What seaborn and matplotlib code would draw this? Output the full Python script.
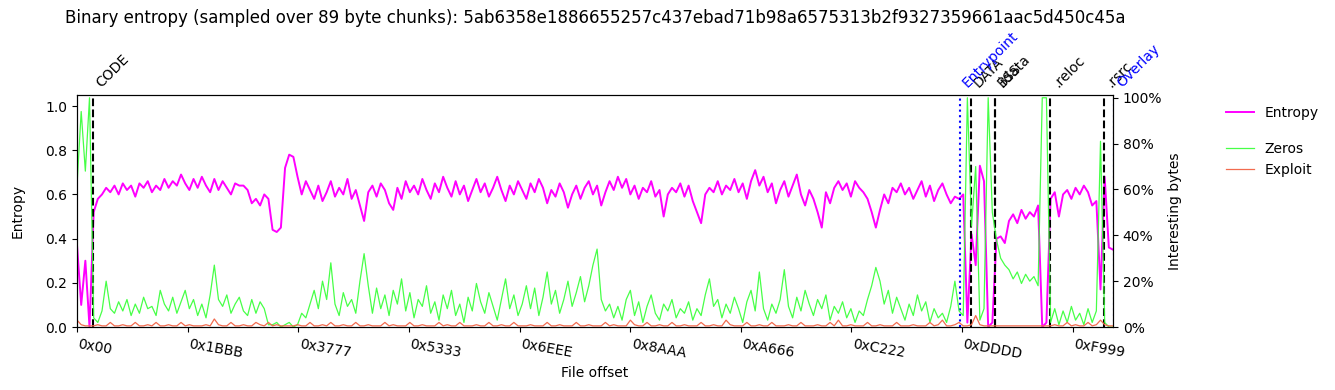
import numpy as np
import matplotlib
matplotlib.use('Agg')
import matplotlib.pyplot as plt
import matplotlib.transforms as mtransforms
from matplotlib.ticker import PercentFormatter
import seaborn as sns

# sample info
sha256 = '5ab6358e1886655257c437ebad71b98a6575313b2f9327359661aac5d450c45a'
chunk_size = 89
sample_step = 3 * chunk_size  # one value read every 3 chunks

# x tick labels (hex file offsets)
tick_labels = ['0x00', '0x1BBB', '0x3777', '0x5333', '0x6EEE',
               '0x8AAA', '0xA666', '0xC222', '0xDDDD', '0xF999']

# entropy (left axis, 0..1)
entropy = [
    0.37, 0.10, 0.30, 0.00, 0.52, 0.58, 0.60, 0.63, 0.61, 0.64,
    0.60, 0.65, 0.62, 0.64, 0.59, 0.65, 0.63, 0.66, 0.61, 0.64,
    0.62, 0.67, 0.63, 0.66, 0.64, 0.69, 0.65, 0.62, 0.67, 0.63,
    0.68, 0.64, 0.61, 0.67, 0.62, 0.66, 0.63, 0.60, 0.65, 0.64,
    0.64, 0.62, 0.56, 0.58, 0.55, 0.60, 0.58, 0.44, 0.43, 0.45,
    0.72, 0.78, 0.77, 0.68, 0.60, 0.66, 0.62, 0.58, 0.64, 0.57,
    0.61, 0.66, 0.59, 0.63, 0.60, 0.67, 0.58, 0.62, 0.55, 0.48,
    0.61, 0.64, 0.59, 0.65, 0.62, 0.56, 0.53, 0.63, 0.58, 0.66,
    0.61, 0.64, 0.60, 0.67, 0.62, 0.58, 0.65, 0.61, 0.68, 0.63,
    0.59, 0.66, 0.60, 0.64, 0.57, 0.62, 0.67, 0.61, 0.65, 0.59,
    0.63, 0.68, 0.62, 0.57, 0.64, 0.60, 0.66, 0.62, 0.58, 0.65,
    0.61, 0.67, 0.63, 0.56, 0.62, 0.59, 0.65, 0.61, 0.54, 0.60,
    0.64, 0.58, 0.63, 0.66, 0.60, 0.64, 0.55, 0.61, 0.66, 0.62,
    0.68, 0.63, 0.67, 0.60, 0.64, 0.58, 0.63, 0.61, 0.66, 0.59,
    0.62, 0.50, 0.60, 0.63, 0.61, 0.65, 0.59, 0.64, 0.57, 0.52,
    0.47, 0.60, 0.63, 0.61, 0.66, 0.60, 0.64, 0.62, 0.67, 0.61,
    0.65, 0.58, 0.66, 0.71, 0.64, 0.68, 0.61, 0.65, 0.56, 0.62,
    0.66, 0.59, 0.64, 0.69, 0.60, 0.55, 0.62, 0.58, 0.52, 0.45,
    0.61, 0.56, 0.63, 0.66, 0.62, 0.65, 0.59, 0.66, 0.63, 0.61,
    0.58, 0.52, 0.45, 0.53, 0.60, 0.56, 0.63, 0.61, 0.65, 0.60,
    0.63, 0.58, 0.62, 0.66, 0.59, 0.64, 0.57, 0.62, 0.65, 0.60,
    0.56, 0.59, 0.58, 0.60, 0.02, 0.42, 0.28, 0.73, 0.66, 0.00,
    0.02, 0.40, 0.41, 0.38, 0.48, 0.51, 0.47, 0.53, 0.49, 0.52,
    0.50, 0.55, 0.00, 0.02, 0.58, 0.61, 0.50, 0.60, 0.62, 0.58,
    0.63, 0.60, 0.64, 0.61, 0.55, 0.57, 0.17, 0.68, 0.36, 0.35,
]

# share of zero bytes (right axis)
zeros = [
    0.62, 0.94, 0.68, 1.00, 0.04, 0.02, 0.07, 0.20, 0.08, 0.06,
    0.11, 0.07, 0.12, 0.05, 0.10, 0.06, 0.13, 0.08, 0.09, 0.05,
    0.16, 0.10, 0.07, 0.13, 0.06, 0.11, 0.16, 0.08, 0.12, 0.05,
    0.10, 0.04, 0.14, 0.27, 0.12, 0.09, 0.14, 0.06, 0.10, 0.13,
    0.07, 0.05, 0.12, 0.06, 0.11, 0.08, 0.01, 0.01, 0.02, 0.00,
    0.01, 0.02, 0.00, 0.01, 0.06, 0.04, 0.10, 0.16, 0.08, 0.20,
    0.12, 0.28, 0.10, 0.05, 0.15, 0.09, 0.12, 0.06, 0.20, 0.32,
    0.18, 0.06, 0.17, 0.08, 0.14, 0.05, 0.16, 0.10, 0.21, 0.07,
    0.15, 0.04, 0.12, 0.09, 0.18, 0.06, 0.11, 0.03, 0.14, 0.08,
    0.16, 0.05, 0.10, 0.02, 0.13, 0.07, 0.19, 0.11, 0.06, 0.15,
    0.09, 0.03, 0.12, 0.21, 0.08, 0.14, 0.05, 0.10, 0.18, 0.08,
    0.17, 0.05, 0.13, 0.24, 0.10, 0.16, 0.06, 0.12, 0.20, 0.09,
    0.15, 0.22, 0.11, 0.18, 0.27, 0.34, 0.12, 0.07, 0.10, 0.04,
    0.09, 0.03, 0.12, 0.16, 0.05, 0.11, 0.02, 0.09, 0.14, 0.06,
    0.03, 0.10, 0.07, 0.12, 0.04, 0.08, 0.06, 0.11, 0.03, 0.08,
    0.05, 0.14, 0.21, 0.09, 0.12, 0.04, 0.10, 0.06, 0.13, 0.08,
    0.02, 0.11, 0.16, 0.07, 0.24, 0.08, 0.03, 0.10, 0.06, 0.12,
    0.25, 0.09, 0.04, 0.13, 0.07, 0.16, 0.10, 0.05, 0.12, 0.08,
    0.14, 0.03, 0.09, 0.06, 0.11, 0.04, 0.08, 0.02, 0.07, 0.05,
    0.12, 0.18, 0.26, 0.20, 0.10, 0.16, 0.06, 0.13, 0.08, 0.03,
    0.10, 0.05, 0.14, 0.07, 0.11, 0.02, 0.08, 0.04, 0.06, 0.02,
    0.09, 0.20, 0.07, 0.05, 1.00, 0.44, 0.70, 0.03, 0.08, 1.00,
    0.50, 0.38, 0.30, 0.27, 0.25, 0.21, 0.24, 0.19, 0.23, 0.20,
    0.22, 0.18, 1.00, 1.00, 0.02, 0.08, 0.01, 0.07, 0.02, 0.09,
    0.03, 0.06, 0.01, 0.08, 0.02, 0.07, 0.81, 0.02, 0.00, 0.00,
]

# share of exploit-like bytes (right axis)
exploit = [
    0.03, 0.01, 0.005, 0.005, 0.005, 0.01, 0.005, 0.005, 0.02, 0.005,
    0.005, 0.01, 0.005, 0.005, 0.02, 0.005, 0.005, 0.01, 0.005, 0.02,
    0.005, 0.005, 0.01, 0.005, 0.005, 0.02, 0.005, 0.01, 0.005, 0.005,
    0.005, 0.01, 0.005, 0.035, 0.01, 0.005, 0.005, 0.02, 0.005, 0.005,
    0.01, 0.005, 0.005, 0.02, 0.01, 0.005, 0.02, 0.005, 0.01, 0.005,
    0.005, 0.005, 0.005, 0.01, 0.005, 0.005, 0.02, 0.005, 0.005, 0.01,
    0.005, 0.02, 0.005, 0.005, 0.01, 0.005, 0.005, 0.02, 0.005, 0.005,
    0.01, 0.005, 0.005, 0.005, 0.02, 0.005, 0.01, 0.005, 0.005, 0.005,
    0.02, 0.005, 0.005, 0.01, 0.005, 0.005, 0.005, 0.02, 0.005, 0.01,
    0.005, 0.005, 0.02, 0.005, 0.005, 0.005, 0.01, 0.005, 0.005, 0.02,
    0.005, 0.005, 0.01, 0.005, 0.005, 0.02, 0.005, 0.005, 0.005, 0.01,
    0.005, 0.005, 0.005, 0.02, 0.005, 0.005, 0.01, 0.005, 0.005, 0.005,
    0.02, 0.005, 0.005, 0.01, 0.005, 0.005, 0.005, 0.02, 0.005, 0.01,
    0.005, 0.005, 0.005, 0.03, 0.01, 0.005, 0.005, 0.02, 0.005, 0.005,
    0.01, 0.005, 0.005, 0.02, 0.005, 0.005, 0.01, 0.005, 0.005, 0.005,
    0.02, 0.005, 0.005, 0.01, 0.005, 0.005, 0.03, 0.01, 0.005, 0.005,
    0.005, 0.02, 0.005, 0.005, 0.01, 0.005, 0.005, 0.02, 0.005, 0.005,
    0.005, 0.01, 0.005, 0.005, 0.02, 0.005, 0.005, 0.005, 0.01, 0.005,
    0.005, 0.02, 0.005, 0.03, 0.005, 0.005, 0.01, 0.005, 0.005, 0.005,
    0.02, 0.005, 0.005, 0.01, 0.005, 0.005, 0.005, 0.02, 0.005, 0.005,
    0.005, 0.01, 0.005, 0.005, 0.005, 0.02, 0.005, 0.01, 0.03, 0.005,
    0.005, 0.01, 0.02, 0.005, 0.005, 0.01, 0.05, 0.01, 0.005, 0.005,
    0.005, 0.005, 0.005, 0.005, 0.005, 0.005, 0.005, 0.005, 0.005, 0.005,
    0.005, 0.005, 0.005, 0.005, 0.005, 0.01, 0.005, 0.005, 0.02, 0.005,
    0.01, 0.005, 0.005, 0.02, 0.005, 0.01, 0.03, 0.01, 0.005, 0.005,
]

# sections (raw file offsets)
section_names = ['CODE', 'DATA', 'BSS', '.idata', '.reloc', '.rsrc']
section_offsets = [0x400, 0xE000, 0xE600, 0xE600, 0xF400, 65900]
entrypoint_offset = 56650

offsets = np.arange(len(entropy)) * sample_step
overlay_offset = offsets[-1] + chunk_size

fig, ax = plt.subplots(figsize=(13.35, 3.9), dpi=100)
fig.subplots_adjust(left=0.0577, right=0.8337, bottom=0.1615, top=0.7564)
ax2 = ax.twinx()

sns.lineplot(x=offsets, y=entropy, ax=ax, color='#ff00ff', linewidth=1.4, label='Entropy')
sns.lineplot(x=offsets, y=zeros, ax=ax2, color='#33ff33', linewidth=0.9, alpha=0.9, label='Zeros')
sns.lineplot(x=offsets, y=exploit, ax=ax2, color='#f26b4f', linewidth=0.9, label='Exploit')
for a in (ax, ax2):
    if a.get_legend() is not None:
        a.get_legend().remove()

ax.set_xlim(0, offsets[-1])
ax.set_ylim(0, 1.05)
ax2.set_ylim(0, 1.012)
ax2.yaxis.set_major_formatter(PercentFormatter(1.0, decimals=0))

ax.set_xticks([int(t, 16) for t in tick_labels])
ax.set_xticklabels(tick_labels, rotation=-10, ha='left')

ax.set_xlabel('File offset')
ax.set_ylabel('Entropy', labelpad=15)
ax2.set_ylabel('Interesting bytes')

# section markers
trans = mtransforms.blended_transform_factory(ax.transData, ax.transAxes)
for name, off in zip(section_names, section_offsets):
    ax.axvline(off, color='black', linestyle='--', linewidth=1.5)
    ax.text(off, 1.02, name, rotation=45, ha='left', va='bottom', transform=trans)
ax.axvline(entrypoint_offset, color='blue', linestyle=':', linewidth=1.5)
ax.text(entrypoint_offset, 1.02, 'Entrypoint', rotation=45, ha='left', va='bottom',
        color='blue', transform=trans)
ax.axvline(overlay_offset, color='blue', linestyle=':', linewidth=1.5)
ax.text(overlay_offset, 1.02, 'Overlay', rotation=45, ha='left', va='bottom',
        color='blue', transform=trans)

fig.text(0.4457, 1 - 18 / 390, f'Binary entropy (sampled over {chunk_size} byte chunks): {sha256}',
         ha='center', va='center', fontsize=12)

h1, l1 = ax.get_legend_handles_labels()
h2, l2 = ax2.get_legend_handles_labels()
fig.legend(h1, l1, loc='upper left', bbox_to_anchor=(0.9088, 0.7614), frameon=False)
fig.legend(h2, l2, loc='upper left', bbox_to_anchor=(0.9088, 0.6684), frameon=False)

fig.savefig('out.png', dpi=100)
